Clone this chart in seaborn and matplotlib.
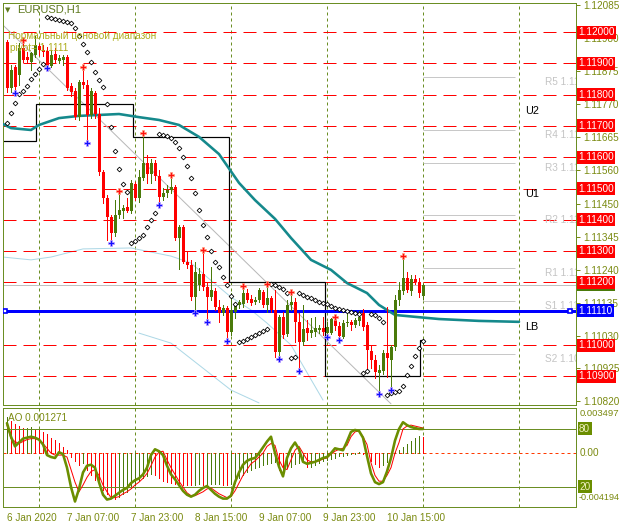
import matplotlib
matplotlib.use("Agg")
import matplotlib.pyplot as plt
import matplotlib.transforms as mtransforms
import numpy as np
import pandas as pd
import seaborn as sns

sns.set_theme(style="white")
plt.rcParams['font.family'] = ['Liberation Sans', 'DejaVu Sans']
plt.rcParams['lines.scale_dashes'] = False

# ---------------- data (EURUSD H1) ----------------
bar_open = [1.11968, 1.11821, 1.11888, 1.11863, 1.11949, 1.11920, 1.11904, 1.11927, 1.11955, 1.11942,
            1.11939, 1.11891, 1.11930, 1.11907, 1.11911, 1.11920, 1.11827, 1.11811, 1.11728, 1.11840,
            1.11831, 1.11735, 1.11805, 1.11738, 1.11553, 1.11470, 1.11409, 1.11358, 1.11415, 1.11428,
            1.11441, 1.11428, 1.11514, 1.11470, 1.11533, 1.11581, 1.11546, 1.11581, 1.11540, 1.11473,
            1.11486, 1.11495, 1.11505, 1.11342, 1.11377, 1.11265, 1.11255, 1.11153, 1.11192, 1.11227,
            1.11185, 1.11153, 1.11172, 1.11121, 1.11102, 1.11118, 1.11042, 1.11105, 1.11128, 1.11131,
            1.11166, 1.11147, 1.11137, 1.11144, 1.11169, 1.11128, 1.11150, 1.11112, 1.10978, 1.11089,
            1.11035, 1.11128, 1.11137, 1.11073, 1.11010, 1.11054, 1.11038, 1.11042, 1.11048, 1.11054,
            1.11038, 1.11038, 1.11080, 1.11061, 1.11026, 1.11070, 1.11073, 1.11064, 1.11077, 1.11102,
            1.11064, 1.10981, 1.10952, 1.10911, 1.10917, 1.10974, 1.10952, 1.10994, 1.11144, 1.11172,
            1.11214, 1.11172, 1.11211, 1.11201, 1.11157]
bar_high = [1.11974, 1.11895, 1.11895, 1.11965, 1.11971, 1.11936, 1.11936, 1.11987, 1.11962, 1.11958,
            1.11952, 1.11942, 1.11949, 1.11927, 1.11927, 1.11927, 1.11837, 1.11821, 1.11847, 1.11885,
            1.11847, 1.11821, 1.11811, 1.11757, 1.11559, 1.11479, 1.11415, 1.11463, 1.11492, 1.11447,
            1.11470, 1.11527, 1.11521, 1.11559, 1.11677, 1.11607, 1.11594, 1.11591, 1.11559, 1.11502,
            1.11511, 1.11543, 1.11511, 1.11383, 1.11383, 1.11297, 1.11272, 1.11265, 1.11246, 1.11303,
            1.11198, 1.11249, 1.11182, 1.11144, 1.11128, 1.11125, 1.11166, 1.11134, 1.11144, 1.11188,
            1.11179, 1.11160, 1.11153, 1.11182, 1.11176, 1.11195, 1.11157, 1.11176, 1.11096, 1.11105,
            1.11144, 1.11169, 1.11150, 1.11102, 1.11128, 1.11080, 1.11086, 1.11089, 1.11064, 1.11089,
            1.11073, 1.11086, 1.11093, 1.11073, 1.11080, 1.11105, 1.11080, 1.11086, 1.11109, 1.11115,
            1.11073, 1.11000, 1.10968, 1.10936, 1.10984, 1.11121, 1.11000, 1.11160, 1.11201, 1.11284,
            1.11233, 1.11224, 1.11224, 1.11214, 1.11195]
bar_low = [1.11808, 1.11808, 1.11805, 1.11831, 1.11904, 1.11901, 1.11879, 1.11920, 1.11927, 1.11923,
           1.11885, 1.11888, 1.11901, 1.11901, 1.11895, 1.11815, 1.11795, 1.11722, 1.11719, 1.11821,
           1.11648, 1.11725, 1.11725, 1.11543, 1.11454, 1.11335, 1.11329, 1.11348, 1.11406, 1.11406,
           1.11425, 1.11422, 1.11463, 1.11457, 1.11527, 1.11518, 1.11518, 1.11527, 1.11447, 1.11463,
           1.11473, 1.11486, 1.11335, 1.11243, 1.11262, 1.11246, 1.11144, 1.11105, 1.11176, 1.11176,
           1.11080, 1.11144, 1.11112, 1.11073, 1.11096, 1.11019, 1.11032, 1.11086, 1.11118, 1.11121,
           1.11137, 1.11128, 1.11131, 1.11137, 1.11121, 1.11105, 1.11105, 1.10962, 1.10955, 1.11022,
           1.11029, 1.11112, 1.11010, 1.10914, 1.11000, 1.11016, 1.11026, 1.11029, 1.11038, 1.11032,
           1.11026, 1.11035, 1.11048, 1.11016, 1.11022, 1.11061, 1.11048, 1.11057, 1.11064, 1.11048,
           1.10920, 1.10926, 1.10895, 1.10850, 1.10907, 1.10898, 1.10862, 1.10984, 1.11128, 1.11163,
           1.11169, 1.11160, 1.11195, 1.11153, 1.11147]
bar_close = [1.11821, 1.11879, 1.11824, 1.11949, 1.11911, 1.11911, 1.11933, 1.11958, 1.11942, 1.11936,
             1.11891, 1.11927, 1.11911, 1.11917, 1.11920, 1.11821, 1.11808, 1.11728, 1.11840, 1.11831,
             1.11735, 1.11811, 1.11738, 1.11553, 1.11470, 1.11409, 1.11358, 1.11415, 1.11431, 1.11438,
             1.11428, 1.11518, 1.11470, 1.11537, 1.11581, 1.11546, 1.11581, 1.11540, 1.11473, 1.11486,
             1.11495, 1.11505, 1.11342, 1.11377, 1.11265, 1.11255, 1.11153, 1.11233, 1.11227, 1.11185,
             1.11153, 1.11176, 1.11121, 1.11102, 1.11118, 1.11042, 1.11112, 1.11128, 1.11137, 1.11166,
             1.11144, 1.11134, 1.11144, 1.11176, 1.11128, 1.11150, 1.11112, 1.10978, 1.11089, 1.11032,
             1.11128, 1.11137, 1.11073, 1.11010, 1.11051, 1.11038, 1.11048, 1.11054, 1.11054, 1.11042,
             1.11057, 1.11083, 1.11061, 1.11029, 1.11070, 1.11073, 1.11064, 1.11080, 1.11089, 1.11057,
             1.10984, 1.10952, 1.10914, 1.10920, 1.10974, 1.10958, 1.10994, 1.11144, 1.11176, 1.11214,
             1.11176, 1.11211, 1.11201, 1.11166, 1.11192]

# parabolic SAR, one dot per bar
sar_price = [1.11709, 1.11741, 1.11773, 1.11802, 1.11811, 1.11827, 1.11850, 1.11866, 1.11882, 1.11898,
             1.12048, 1.12045, 1.12042, 1.12038, 1.12035, 1.12032, 1.12029, 1.12013, 1.11987, 1.11962,
             1.11936, 1.11904, 1.11872, 1.11847, 1.11824, 1.11770, 1.11696, 1.11620, 1.11562, 1.11514,
             1.11489, 1.11326, 1.11332, 1.11342, 1.11351, 1.11377, 1.11399, 1.11422, 1.11674, 1.11671,
             1.11668, 1.11661, 1.11649, 1.11629, 1.11601, 1.11572, 1.11534, 1.11486, 1.11431, 1.11383,
             1.11345, 1.11300, 1.11265, 1.11249, 1.11217, 1.11192, 1.11157, 1.11131, 1.11010, 1.11013,
             1.11019, 1.11026, 1.11032, 1.11038, 1.11045, 1.11051, 1.11195, 1.11192, 1.11185, 1.11179,
             1.11166, 1.10958, 1.10962, 1.11166, 1.11160, 1.11153, 1.11150, 1.11144, 1.11137, 1.11134,
             1.11131, 1.11125, 1.11118, 1.11115, 1.11112, 1.11109, 1.11105, 1.11102, 1.11100, 1.10911,
             1.10917, 1.11099, 1.11096, 1.11086, 1.11073, 1.10840, 1.10847, 1.10850, 1.10853, 1.10869,
             1.10904, 1.10933, 1.10965, 1.10990, 1.11013]

frac_up_bar = [4, 19, 28, 34, 41, 49, 59, 65, 71, 82, 99]
frac_up_price = [1.11974, 1.11888, 1.11492, 1.11677, 1.11543, 1.11303, 1.11188, 1.11195, 1.11169, 1.11089, 1.11284]
frac_dn_bar = [2, 10, 20, 26, 38, 47, 50, 55, 68, 73, 80, 83, 93, 96]
frac_dn_price = [1.11805, 1.11885, 1.11645, 1.11326, 1.11447, 1.11102, 1.11073, 1.11013, 1.10955, 1.10917,
                 1.11026, 1.11016, 1.10843, 1.10856]

# shifted moving average (teal)
teal_bar = [-1, 1, 6, 8, 13, 18, 23, 28, 33, 38, 43, 48, 53, 58, 62, 67, 71, 76, 81, 85, 90, 93, 97, 102, 108, 118, 128]
teal_price = [1.11706, 1.11693, 1.11687, 1.11703, 1.11725, 1.11732, 1.11735, 1.11738, 1.11728, 1.11719,
              1.11703, 1.11665, 1.11610, 1.11518, 1.11463, 1.11403, 1.11342, 1.11272, 1.11240, 1.11198,
              1.11166, 1.11128, 1.11096, 1.11090, 1.11083, 1.11077, 1.11074]

# light-blue band curves
band1_bar = [-1, 6, 11, 19, 31, 41, 46, 50, 56, 61, 65, 71, 79]
band1_price = [1.11281, 1.11272, 1.11281, 1.11307, 1.11310, 1.11284, 1.11262, 1.11217, 1.11153, 1.11112,
               1.11070, 1.11000, 1.10824]
band2_bar = [33, 41, 48, 56, 63]
band2_price = [1.11038, 1.11006, 1.10936, 1.10856, 1.10815]

# daily range step line
step_edges = [-1, 7.2, 31.6, 55.5, 79.5, 103.2, 104.2]
step_levels = [1.11652, 1.11770, 1.11665, 1.11201, 1.10901, 1.11016]

# gray trend line
trend_bar = [-1, 96]
trend_price = [1.12022, 1.10812]

round_levels = [1.12000, 1.11900, 1.11800, 1.11700, 1.11600, 1.11500, 1.11400, 1.11300, 1.11200,
                1.11000, 1.10900]
pivot_level = 1.11110
bid_price = 1.11192
price_ticks = [1.12085, 1.11980, 1.11875, 1.11770, 1.11665, 1.11560, 1.11450, 1.11345, 1.11240,
               1.11135, 1.11030, 1.10925, 1.10820]

pivot_names = ["R5", "R4", "R3", "R2", "R1", "S1", "S2"]
pivot_values = [1.11856, 1.11687, 1.11581, 1.11415, 1.11246, 1.11141, 1.10971]

u_names = ["U2", "U1", "LB"]
u_values = [1.11748, 1.11482, 1.11058]

day_sep_bars = [8, 32, 56, 80, 104, 128]
date_tick_bars = [0, 15, 31, 47, 63, 79, 95]
date_tick_labels = ["6 Jan 2020", "7 Jan 07:00", "7 Jan 23:00", "8 Jan 15:00", "9 Jan 07:00",
                    "9 Jan 23:00", "10 Jan 15:00"]

# Awesome oscillator per bar
ao_values = [0.00278, 0.00248, 0.00228, 0.00210, 0.00192, 0.00195, 0.00200, 0.00190, 0.00180, 0.00165,
             0.00145, 0.00120, 0.00100, 0.00075, 0.00050, 0.00020, -0.00030, -0.00060, -0.00090, -0.00080,
             -0.00130, -0.00170, -0.00210, -0.00250, -0.00290, -0.00320, -0.00345, -0.00360, -0.00340, -0.00320,
             -0.00300, -0.00270, -0.00245, -0.00220, -0.00195, -0.00175, -0.00160, -0.00170, -0.00195, -0.00215,
             -0.00225, -0.00235, -0.00240, -0.00245, -0.00248, -0.00250, -0.00252, -0.00245, -0.00240, -0.00250,
             -0.00246, -0.00243, -0.00242, -0.00240, -0.00245, -0.00250, -0.00243, -0.00235, -0.00195, -0.00170,
             -0.00145, -0.00130, -0.00120, -0.00108, -0.00095, -0.00082, -0.00075, -0.00068, -0.00130, -0.00155,
             -0.00120, -0.00105, -0.00088, -0.00080, -0.00072, -0.00110, -0.00105, -0.00090, -0.00075, -0.00065,
             -0.00055, -0.00045, -0.00035, -0.00025, -0.00020, -0.00015, -0.00010, -0.00005, 0.00005, -0.00008,
             -0.00040, -0.00065, -0.00085, -0.00105, -0.00095, -0.00070, -0.00030, 0.00005, 0.00025, 0.00045,
             0.00070, 0.00095, 0.00115, 0.00135, 0.001271]
ao_top = 0.003497
ao_bottom = -0.004194

stoch_k = [86, 72, 62, 66, 70, 71, 72, 71, 69, 64, 53, 51, 50, 56, 54, 40, 20, 5, 18, 35,
           42, 43, 40, 25, 12, 7, 8, 11, 14, 17, 19, 24, 27, 29, 33, 40, 53, 59, 57, 53,
           42, 33, 28, 22, 16, 12, 10, 12, 16, 19, 21, 17, 13, 10, 8, 8, 11, 25, 35, 43,
           47, 49, 50, 55, 61, 67, 72, 55, 41, 31, 50, 60, 66, 59, 46, 44, 45, 46, 48, 50,
           51, 55, 60, 59, 58, 67, 77, 79, 78, 71, 52, 34, 25, 23, 25, 36, 50, 68, 80, 87,
           84, 82, 81, 80, 80]
stoch_d = [84, 70, 67, 65, 67, 69, 70, 70, 69, 65, 60, 55, 53, 53, 53, 51, 38, 25, 15, 22,
           30, 36, 38, 32, 22, 15, 9, 9, 10, 13, 15, 18, 22, 25, 29, 34, 42, 51, 56, 57,
           48, 40, 33, 26, 20, 14, 11, 11, 13, 15, 18, 19, 16, 13, 11, 9, 10, 16, 24, 32,
           38, 44, 47, 51, 55, 62, 65, 63, 48, 40, 38, 48, 58, 62, 55, 48, 46, 46, 47, 49,
           50, 54, 57, 59, 60, 63, 72, 77, 78, 72, 64, 45, 32, 26, 26, 32, 40, 55, 66, 80,
           83, 84, 83, 82, 81]
stoch_levels = [80, 20]

# ---------------- styling ----------------
PX = 0.72
W, H = 622, 528
OLIVE = '#6B8E23'
LABEL = '#7A8A10'
BULL = '#4A7A0A'
BEAR = '#FF0000'
TEAL = '#15898C'
FS = 7.2

fig = plt.figure(figsize=(W / 100, H / 100), dpi=100)
fig.patch.set_facecolor('white')
ax = fig.add_axes([3 / W, 1 - 405 / H, 573 / W, 402 / H])
axi = fig.add_axes([3 / W, 1 - 507 / H, 573 / W, 99 / H])
for a in (ax, axi):
    a.set_facecolor('white')
    for s in a.spines.values():
        s.set_color(OLIVE)
        s.set_linewidth(PX)
    a.set_xlim(-1, 142.25)

ax.set_ylim(1.108083, 1.120927)

df = pd.DataFrame({'o': bar_open, 'h': bar_high, 'l': bar_low, 'c': bar_close})
df['bar'] = np.arange(len(df))
df['col'] = np.where(df['c'] >= df['o'], BULL, BEAR)

# separators and levels
for d in day_sep_bars:
    ax.axvline(d, color=OLIVE, lw=PX, ls=(0, (3 * PX, 3 * PX)), zorder=1)
    axi.axvline(d, color=OLIVE, lw=PX, ls=(0, (3 * PX, 3 * PX)), zorder=1)
for lv in round_levels:
    ax.axhline(lv, color='#FF0000', lw=PX, ls=(0, (13 * PX, 7 * PX)), zorder=2)
ax.axhline(bid_price, color='#C0C0C0', lw=PX, zorder=1.5)

# bands
sns.lineplot(x=band1_bar, y=band1_price, ax=ax, color='#ADD8E6', lw=PX, zorder=1.6)
sns.lineplot(x=band2_bar, y=band2_price, ax=ax, color='#ADD8E6', lw=PX, zorder=1.6)

# pivot gray short lines + labels
ax.hlines(pivot_values, 104, 127, color='#C8C8C8', lw=PX, zorder=1.7)
lab_tr = mtransforms.offset_copy(ax.transData, fig=fig, x=0, y=-5, units='dots')
for nm, v in zip(pivot_names, pivot_values):
    ax.text(134.5, v, f"{nm} {v:.5f}", transform=lab_tr, fontsize=FS, color='#C4C4C4',
            ha='left', va='center', clip_on=True, zorder=2)

# trend line, step line
sns.lineplot(x=trend_bar, y=trend_price, ax=ax, color='#B8B8B8', lw=PX, zorder=2.2)
ax.stairs(step_levels, step_edges, baseline=None, color='black', lw=1.2 * PX, zorder=2.4)

# pivot blue line
ax.axhline(pivot_level, color='#0000FF', lw=3 * PX, zorder=2.6)
ax.plot([-0.5, 140.75], [pivot_level, pivot_level], ls='none', marker='s', ms=3.5,
        mfc='white', mec='#0000FF', mew=1.2, zorder=2.7)

# teal MA
sns.lineplot(x=teal_bar, y=teal_price, ax=ax, color=TEAL, lw=2.6 * PX, zorder=3)

# candles
ax.vlines(df['bar'], df['l'], df['h'], colors=df['col'], lw=PX, antialiased=False, zorder=4)
body_lo = np.minimum(df['o'], df['c'])
body_h = np.maximum((df['c'] - df['o']).abs(), 0.00002)
ax.bar(df['bar'], body_h, bottom=body_lo, width=0.75, color=df['col'], edgecolor='none', zorder=5)

# SAR
ax.plot(df['bar'], sar_price, ls='none', marker='D', ms=2.4, mfc='white', mec='black', mew=0.6, zorder=6)

# fractals
ax.plot(frac_up_bar, frac_up_price, ls='none', marker='P', ms=4.5, mfc='#FF1010', mec='#FFA080',
        mew=0.5, zorder=7)
ax.plot(frac_dn_bar, frac_dn_price, ls='none', marker='P', ms=4.5, mfc='#1010FF', mec='#C0A0FF',
        mew=0.5, zorder=7)

# right axis ticks
ax.yaxis.tick_right()
ax.set_yticks(price_ticks)
ax.set_yticklabels([f"{v:.5f}" for v in price_ticks])
ax.tick_params(axis='y', colors=LABEL, labelsize=FS, length=3, width=PX, pad=2)
ax.tick_params(axis='x', bottom=False, labelbottom=False)
ax.set_xlabel('')
ax.set_ylabel('')

tr_r = mtransforms.blended_transform_factory(ax.transAxes, ax.transData)
ax.text(1.0 + 2 / 573, bid_price, f"{bid_price:.5f}", transform=tr_r, ha='left', va='center',
        fontsize=FS, color='white', clip_on=False, zorder=9,
        bbox=dict(boxstyle='square,pad=0.15', fc=BULL, ec='none'))
for lv in round_levels:
    ax.text(1.0 + 2 / 573, lv, f"{lv:.5f}", transform=tr_r, ha='left', va='center', fontsize=FS,
            color='white', clip_on=False, zorder=10,
            bbox=dict(boxstyle='square,pad=0.15', fc='#FF0000', ec='none'))
ax.text(1.0 + 2 / 573, pivot_level, f"{pivot_level:.5f}", transform=tr_r, ha='left', va='center',
        fontsize=FS, color='white', clip_on=False, zorder=10,
        bbox=dict(boxstyle='square,pad=0.15', fc='#0000FF', ec='none'))

# U labels
for nm, v in zip(u_names, u_values):
    ax.text(129.5, v, nm, fontsize=7.8, color='black', ha='left', va='center', zorder=8)

# header texts
def axpos(xp, yp):
    return ((xp - 3) / 573, (405 - yp) / 402)

ax.text(*axpos(5, 10), "\u25BC", transform=ax.transAxes, fontsize=5, color='#5F7A20',
        ha='left', va='center', family=['DejaVu Sans'])
ax.text(*axpos(17, 10), "EURUSD,H1", transform=ax.transAxes, fontsize=8, color='#5F7A20',
        ha='left', va='center', zorder=9)
ax.text(*axpos(8, 36), "Нормальный ценовой диапазон", transform=ax.transAxes, fontsize=FS,
        color='#ADAD1C', ha='left', va='center', zorder=9)
ax.text(*axpos(10, 48), "pivot= 1.1111", transform=ax.transAxes, fontsize=FS,
        color='#ADAD1C', ha='left', va='center', zorder=9)

# ---------------- indicator panel ----------------
axi.set_ylim(ao_bottom, ao_top)
ao = np.array(ao_values)
ao_col = [BULL if (i == 0 or ao[i] > ao[i - 1]) else BEAR for i in range(len(ao))]
axi.vlines(np.arange(len(ao)), 0, ao, colors=ao_col, lw=PX, antialiased=False, zorder=3)
axi.axhline(0, color='#FF3A00', lw=PX, ls=(0, (3 * PX, 3 * PX)), zorder=2)
axi.set_yticks([])
axi.set_xticks(date_tick_bars)
axi.set_xticklabels(date_tick_labels, ha='left')
axi.tick_params(axis='x', colors=LABEL, labelsize=FS, length=3, width=PX, pad=1.5)

axs = axi.twinx()
axs.set_ylim(-0.7, 101.7)
axs.set_xlim(-1, 142.25)
for s in axs.spines.values():
    s.set_visible(False)
axs.set_yticks([])
for lv in stoch_levels:
    axs.axhline(lv, color=OLIVE, lw=PX, zorder=2)
sns.lineplot(x=np.arange(len(stoch_d)), y=stoch_d, ax=axs, color='#FF0000', lw=PX, zorder=4)
sns.lineplot(x=np.arange(len(stoch_k)), y=stoch_k, ax=axs, color='#6B8E00', lw=2.6 * PX, zorder=5)
axs.set_ylabel('')

axi.text(5 / 573, 0.90, f"AO {ao_values[-1]:.6f}", transform=axi.transAxes, fontsize=FS,
         color=LABEL, ha='left', va='center')
tr_i = mtransforms.blended_transform_factory(axi.transAxes, axi.transData)
axi.text(1.0 + 4 / 573, 0.94, f"{ao_top:.6f}", transform=axi.transAxes, fontsize=6.8, color=LABEL,
         ha='left', va='center', clip_on=False)
axi.text(1.0 + 4 / 573, 0.0, "0.00", transform=tr_i, fontsize=FS, color=LABEL,
         ha='left', va='center', clip_on=False)
axi.text(1.0 + 3 / 573, 0.10, f"{ao_bottom:.6f}", transform=axi.transAxes, fontsize=6.6, color=LABEL,
         ha='left', va='center', clip_on=False)
tr_s = mtransforms.blended_transform_factory(axs.transAxes, axs.transData)
for lv in stoch_levels:
    axs.text(1.0 + 3 / 573, lv, f"{lv}", transform=tr_s, fontsize=FS, color='#F0F0C0',
             ha='left', va='center', clip_on=False, zorder=10,
             bbox=dict(boxstyle='square,pad=0.15', fc='#6B8E00', ec='none'))

fig.savefig("out.png", dpi=100, facecolor='white')
